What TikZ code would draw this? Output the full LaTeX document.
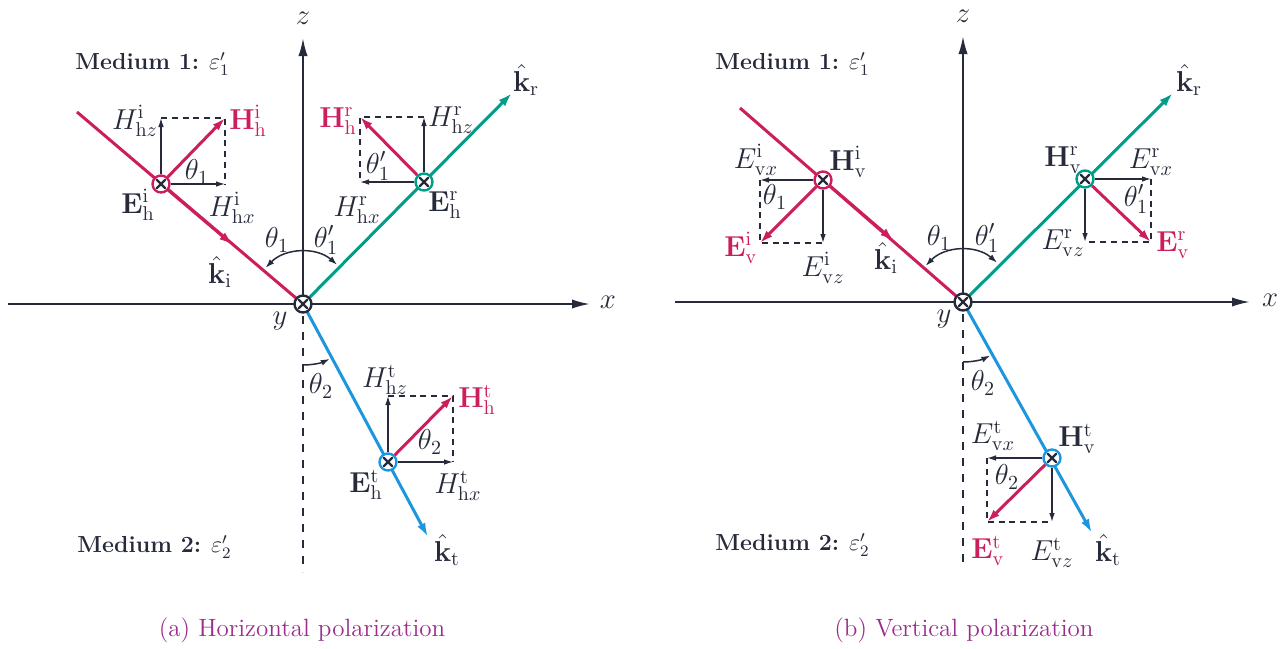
\documentclass[tikz,border=0pt]{standalone}
\usetikzlibrary{arrows.meta}
\definecolor{rayred}{RGB}{204,30,92}
\definecolor{rayteal}{RGB}{0,158,136}
\definecolor{rayblue}{RGB}{30,150,222}
\definecolor{ink}{RGB}{38,42,58}
\definecolor{capt}{RGB}{155,45,140}
\begin{document}
\begin{tikzpicture}[x=0.5pt,y=-0.5pt,
  font=\fontsize{12.5}{15}\selectfont, text=ink,
  axis/.style={draw=ink,line width=1pt,-{Latex[length=9pt,width=4.6pt]}},
  normalline/.style={draw=ink,line width=1pt,dash pattern=on 4pt off 4pt},
  ray/.style={draw=#1,line width=1.5pt},
  raytip/.style={draw=#1,line width=1.5pt,-{Latex[length=7pt,width=4.4pt]}},
  comp/.style={draw=ink,line width=0.65pt,-{Latex[length=4.5pt,width=2.8pt]}},
  hvec/.style={draw=rayred,line width=1.5pt,-{Latex[length=6.5pt,width=4.2pt]}},
  dbox/.style={draw=ink,line width=0.75pt,dash pattern=on 3pt off 2.4pt},
  angarc/.style={draw=ink,line width=0.75pt},
  arcboth/.style={{Latex[length=4.5pt,width=3pt]}-{Latex[length=4.5pt,width=3pt]}},
  arcend/.style={-{Latex[length=4.5pt,width=3pt]}},
  xmark/.style={circle,draw=#1,fill=white,line width=1.2pt,minimum size=8.5pt,inner sep=0pt,
    path picture={\draw[ink,line width=1.1pt,line cap=round]
      ([xshift=-2pt,yshift=-2pt]path picture bounding box.center) -- ([xshift=2pt,yshift=2pt]path picture bounding box.center)
      ([xshift=-2pt,yshift=2pt]path picture bounding box.center) -- ([xshift=2pt,yshift=-2pt]path picture bounding box.center);}},
  lab/.style={inner sep=0pt,font=\fontsize{14}{16}\selectfont},
  redlab/.style={lab,text=rayred},
  medium/.style={inner sep=0pt,anchor=west,font=\fontsize{11.6}{14}\selectfont},
  captionlab/.style={inner sep=0pt,text=capt}]
\useasboundingbox (0,0) rectangle (1288,648);

%% ================= (a) Horizontal polarization =================
\coordinate (O1) at (303,304);
\coordinate (xa1) at (8,304);
\coordinate (xb1) at (590,304);
\coordinate (za1) at (303,38);
\coordinate (na1) at (303,316);
\coordinate (nb1) at (303,572);
\draw[axis] (xa1) -- (xb1);
\draw[axis] (O1) -- (za1);
\draw[normalline] (na1) -- (nb1);
% rays
\coordinate (si1) at (77,112);
\coordinate (mi1) at (233,245);
\coordinate (ci1) at (161,184);
\coordinate (tr1) at (512,93);
\coordinate (cr1) at (424,182);
\coordinate (tt1) at (428,537);
\coordinate (ct1) at (388,462);
\draw[ray=rayred] (si1) -- (O1);
\draw[raytip=rayred] (ci1) -- (mi1);
\draw[raytip=rayteal] (O1) -- (tr1);
\draw[raytip=rayblue] (O1) -- (tt1);
% angle arcs
\draw[angarc,arcboth] ([shift={(-136:52)}]O1) arc[start angle=-136,end angle=-49,radius=52];
\draw[angarc,arcend] ([shift={(90:61)}]O1) arc[start angle=90,end angle=64,radius=61];
% incident components
\coordinate (iu1) at (161,118);
\coordinate (ir1) at (225,184);
\coordinate (ic1) at (225,118);
\draw[dbox] (iu1) -- (ic1) -- (ir1);
\node[xmark=rayred] (Ei1) at (ci1) {};
\draw[comp] (Ei1) -- (iu1);
\draw[comp] (Ei1) -- (ir1);
\draw[hvec] (Ei1) -- (ic1);
% reflected components
\coordinate (ru1) at (424,117);
\coordinate (rl1) at (360,182);
\coordinate (rc1) at (360,117);
\draw[dbox] (ru1) -- (rc1) -- (rl1);
\node[xmark=rayteal] (Er1) at (cr1) {};
\draw[comp] (Er1) -- (ru1);
\draw[comp] (Er1) -- (rl1);
\draw[hvec] (Er1) -- (rc1);
% transmitted components
\coordinate (tu1) at (388,396);
\coordinate (tr1b) at (453,462);
\coordinate (tc1) at (453,396);
\draw[dbox] (tu1) -- (tc1) -- (tr1b);
\node[xmark=rayblue] (Et1) at (ct1) {};
\draw[comp] (Et1) -- (tu1);
\draw[comp] (Et1) -- (tr1b);
\draw[hvec] (Et1) -- (tc1);
\node[xmark=ink] (Or1) at (O1) {};
% labels
\node[lab] (lx1) at (608,302) {$x$};
\node[lab] (lz1) at (303,18) {$z$};
\node[lab] (ly1) at (280,321) {$y$};
\node[medium] (m11) at (75,64) {\textbf{Medium 1:} $\varepsilon'_1$};
\node[medium] (m21) at (77,547) {\textbf{Medium 2:} $\varepsilon'_2$};
\node[lab] (a1) at (135,121) {$H^{\mathrm{i}}_{\mathrm{h}z}$};
\node[redlab] (a2) at (248,121) {$\mathbf{H}^{\mathrm{i}}_{\mathrm{h}}$};
\node[lab] (a3) at (197,172) {$\theta_1$};
\node[lab] (a4) at (138,205) {$\mathbf{E}^{\mathrm{i}}_{\mathrm{h}}$};
\node[lab] (a5) at (232,208) {$H^{\mathrm{i}}_{\mathrm{h}x}$};
\node[lab] (a6) at (220,272) {$\hat{\mathbf{k}}_{\mathrm{i}}$};
\node[lab] (a7) at (277,240) {$\theta_1$};
\node[lab] (a8) at (326,240) {$\theta'_1$};
\node[redlab] (a9) at (338,121) {$\mathbf{H}^{\mathrm{r}}_{\mathrm{h}}$};
\node[lab] (a10) at (451,120) {$H^{\mathrm{r}}_{\mathrm{h}z}$};
\node[lab] (a11) at (378,166) {$\theta'_1$};
\node[lab] (a12) at (357,210) {$H^{\mathrm{r}}_{\mathrm{h}x}$};
\node[lab] (a13) at (445,205) {$\mathbf{E}^{\mathrm{r}}_{\mathrm{h}}$};
\node[lab] (a14) at (526,80) {$\hat{\mathbf{k}}_{\mathrm{r}}$};
\node[lab] (a15) at (321,386) {$\theta_2$};
\node[lab] (a16) at (385,380) {$H^{\mathrm{t}}_{\mathrm{h}z}$};
\node[redlab] (a17) at (477,400) {$\mathbf{H}^{\mathrm{t}}_{\mathrm{h}}$};
\node[lab] (a18) at (430,442) {$\theta_2$};
\node[lab] (a19) at (366,485) {$\mathbf{E}^{\mathrm{t}}_{\mathrm{h}}$};
\node[lab] (a20) at (458,486) {$H^{\mathrm{t}}_{\mathrm{h}x}$};
\node[lab] (a21) at (447,550) {$\hat{\mathbf{k}}_{\mathrm{t}}$};
\node[captionlab] (cap1) at (302,630) {(a) Horizontal polarization};

%% ================= (b) Vertical polarization =================
\coordinate (O2) at (963,302);
\coordinate (xa2) at (675,302);
\coordinate (xb2) at (1250,302);
\coordinate (za2) at (963,36);
\coordinate (na2) at (963,314);
\coordinate (nb2) at (963,568);
\draw[axis] (xa2) -- (xb2);
\draw[axis] (O2) -- (za2);
\draw[normalline] (na2) -- (nb2);
\coordinate (si2) at (740,108);
\coordinate (mi2) at (894,241);
\coordinate (ci2) at (823,180);
\coordinate (tr2) at (1173,93);
\coordinate (cr2) at (1085,179);
\coordinate (tt2) at (1092,533);
\coordinate (ct2) at (1052,458);
\draw[ray=rayred] (si2) -- (O2);
\draw[raytip=rayred] (ci2) -- (mi2);
\draw[raytip=rayteal] (O2) -- (tr2);
\draw[raytip=rayblue] (O2) -- (tt2);
\draw[angarc,arcboth] ([shift={(-136:52)}]O2) arc[start angle=-136,end angle=-49,radius=52];
\draw[angarc,arcend] ([shift={(90:60)}]O2) arc[start angle=90,end angle=63,radius=60];
% incident
\coordinate (il2) at (760,180);
\coordinate (id2) at (823,243);
\coordinate (ic2) at (760,243);
\draw[dbox] (il2) -- (ic2) -- (id2);
\node[xmark=rayred] (Hi2) at (ci2) {};
\draw[comp] (Hi2) -- (il2);
\draw[comp] (Hi2) -- (id2);
\draw[hvec] (Hi2) -- (ic2);
% reflected
\coordinate (rr2) at (1151,179);
\coordinate (rd2) at (1085,242);
\coordinate (rc2) at (1151,242);
\draw[dbox] (rr2) -- (rc2) -- (rd2);
\node[xmark=rayteal] (Hr2) at (cr2) {};
\draw[comp] (Hr2) -- (rr2);
\draw[comp] (Hr2) -- (rd2);
\draw[hvec] (Hr2) -- (rc2);
% transmitted
\coordinate (tl2) at (987,458);
\coordinate (td2) at (1052,522);
\coordinate (tc2) at (987,522);
\draw[dbox] (tl2) -- (tc2) -- (td2);
\node[xmark=rayblue] (Ht2) at (ct2) {};
\draw[comp] (Ht2) -- (tl2);
\draw[comp] (Ht2) -- (td2);
\draw[hvec] (Ht2) -- (tc2);
\node[xmark=ink] (Or2) at (O2) {};
% labels
\node[lab] (lx2) at (1270,300) {$x$};
\node[lab] (lz2) at (963,16) {$z$};
\node[lab] (ly2) at (944,319) {$y$};
\node[medium] (m12) at (715,64) {\textbf{Medium 1:} $\varepsilon'_1$};
\node[medium] (m22) at (715,545) {\textbf{Medium 2:} $\varepsilon'_2$};
\node[lab] (b1) at (756,160) {$E^{\mathrm{i}}_{\mathrm{v}x}$};
\node[lab] (b2) at (848,162) {$\mathbf{H}^{\mathrm{i}}_{\mathrm{v}}$};
\node[lab] (b3) at (775,197) {$\theta_1$};
\node[redlab] (b4) at (741,248) {$\mathbf{E}^{\mathrm{i}}_{\mathrm{v}}$};
\node[lab] (b5) at (823,268) {$E^{\mathrm{i}}_{\mathrm{v}z}$};
\node[lab] (b6) at (886,258) {$\hat{\mathbf{k}}_{\mathrm{i}}$};
\node[lab] (b7) at (939,238) {$\theta_1$};
\node[lab] (b8) at (987,238) {$\theta'_1$};
\node[lab] (b9) at (1063,160) {$\mathbf{H}^{\mathrm{r}}_{\mathrm{v}}$};
\node[lab] (b10) at (1151,162) {$E^{\mathrm{r}}_{\mathrm{v}x}$};
\node[lab] (b11) at (1136,199) {$\theta'_1$};
\node[lab] (b12) at (1063,243) {$E^{\mathrm{r}}_{\mathrm{v}z}$};
\node[redlab] (b13) at (1173,245) {$\mathbf{E}^{\mathrm{r}}_{\mathrm{v}}$};
\node[lab] (b14) at (1189,80) {$\hat{\mathbf{k}}_{\mathrm{r}}$};
\node[lab] (b15) at (983,383) {$\theta_2$};
\node[lab] (b16) at (993,436) {$E^{\mathrm{t}}_{\mathrm{v}x}$};
\node[lab] (b17) at (1077,439) {$\mathbf{H}^{\mathrm{t}}_{\mathrm{v}}$};
\node[lab] (b18) at (1007,477) {$\theta_2$};
\node[redlab] (b19) at (988,551) {$\mathbf{E}^{\mathrm{t}}_{\mathrm{v}}$};
\node[lab] (b20) at (1052,553) {$E^{\mathrm{t}}_{\mathrm{v}z}$};
\node[lab] (b21) at (1108,550) {$\hat{\mathbf{k}}_{\mathrm{t}}$};
\node[captionlab] (cap2) at (964,630) {(b) Vertical polarization};
\end{tikzpicture}
\end{document}
